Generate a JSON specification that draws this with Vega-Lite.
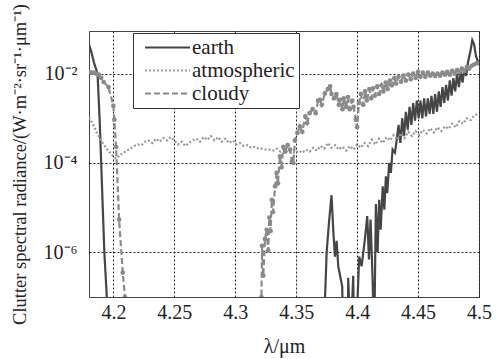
{
  "$schema": "https://vega.github.io/schema/vega-lite/v6.json",
  "width": 390,
  "height": 266,
  "autosize": "none",
  "padding": {"left": 89, "top": 31, "right": 25, "bottom": 62},
  "background": "white",
  "config": {
    "view": {"stroke": "#444", "strokeWidth": 1},
    "style": {"guide-label": {"font": "Liberation Serif", "fill": "#222"}, "guide-title": {"font": "Liberation Serif", "fill": "#222"}},
    "axis": {
      "labelFont": "Liberation Serif", "labelFontSize": 20, "labelColor": "#222",
      "titleFont": "Liberation Serif", "titleFontSize": 19, "titleFontWeight": "normal", "titleColor": "#222",
      "grid": true, "gridColor": "#222", "gridDash": [2, 2], "gridWidth": 1,
      "domain": false, "ticks": false
    },
    "legend": {
      "orient": "none", "legendX": 44, "legendY": 2,
      "fillColor": "white", "strokeColor": "#333", "padding": 4,
      "labelFont": "Liberation Serif", "labelFontSize": 21, "labelColor": "#222",
      "symbolType": "M-3,0H3", "symbolSize": 225, "symbolStrokeWidth": 2,
      "rowPadding": 1, "symbolOffset": 20, "labelOffset": 14
    }
  },
  "data": {"values": [
    {"s":"earth","x":4.180,"y":0.045},{"s":"earth","x":4.182,"y":0.03},{"s":"earth","x":4.184,"y":0.018},{"s":"earth","x":4.187,"y":0.01},
    {"s":"earth","x":4.1887,"y":1e-3},{"s":"earth","x":4.190,"y":1e-4},{"s":"earth","x":4.1913,"y":1e-5},{"s":"earth","x":4.1926,"y":1e-6},
    {"s":"earth","x":4.1946,"y":1e-7},{"s":"earth","x":4.197,"y":1e-9},{"s":"earth","x":4.300,"y":1e-12},{"s":"earth","x":4.369,"y":1e-9},
    {"s":"earth","x":4.3737,"y":1e-7},{"s":"earth","x":4.375,"y":1e-6},{"s":"earth","x":4.377,"y":5e-6},{"s":"earth","x":4.379,"y":1.9e-5},
    {"s":"earth","x":4.3804,"y":3.2e-6},{"s":"earth","x":4.3818,"y":8e-7},{"s":"earth","x":4.3832,"y":1.8e-6},{"s":"earth","x":4.3845,"y":4.9e-7},
    {"s":"earth","x":4.3878,"y":1.7e-7},{"s":"earth","x":4.3888,"y":1e-9},{"s":"earth","x":4.392,"y":1e-9},{"s":"earth","x":4.3927,"y":2.7e-7},
    {"s":"earth","x":4.3946,"y":1e-8},{"s":"earth","x":4.3968,"y":3e-7},{"s":"earth","x":4.3975,"y":1e-8},{"s":"earth","x":4.399,"y":1e-8},
    {"s":"earth","x":4.4017,"y":8e-7},{"s":"earth","x":4.4037,"y":4.9e-7},{"s":"earth","x":4.4064,"y":2e-6},{"s":"earth","x":4.4083,"y":6.5e-6},
    {"s":"earth","x":4.4097,"y":6.9e-7},{"s":"earth","x":4.411,"y":5.4e-6},{"s":"earth","x":4.4127,"y":2.5e-7},{"s":"earth","x":4.414,"y":1e-8},
    {"s":"earth","x":4.4154,"y":1.2e-5},{"s":"earth","x":4.4168,"y":1e-6},{"s":"earth","x":4.4181,"y":1.5e-5},{"s":"earth","x":4.4193,"y":3.2e-6},
    {"s":"earth","x":4.421,"y":3e-5},{"s":"earth","x":4.4223,"y":9e-6},{"s":"earth","x":4.4236,"y":5e-5},{"s":"earth","x":4.4247,"y":2.1e-5},
    {"s":"earth","x":4.4263,"y":1e-4},{"s":"earth","x":4.4277,"y":6e-5},{"s":"earth","x":4.4291,"y":2e-4},{"s":"earth","x":4.431,"y":1.7e-4},
    {"s":"earth","x":4.4325,"y":3.3e-4},{"s":"earth","x":4.434,"y":7.1e-4},{"s":"earth","x":4.4355,"y":2.8e-4},{"s":"earth","x":4.437,"y":1e-3},
    {"s":"earth","x":4.4385,"y":4e-4},{"s":"earth","x":4.440,"y":1.4e-3},{"s":"earth","x":4.4415,"y":5.6e-4},{"s":"earth","x":4.443,"y":1.8e-3},
    {"s":"earth","x":4.4445,"y":7.1e-4},{"s":"earth","x":4.446,"y":2.2e-3},{"s":"earth","x":4.4475,"y":8.9e-4},{"s":"earth","x":4.449,"y":2.5e-3},
    {"s":"earth","x":4.4505,"y":1e-3},{"s":"earth","x":4.452,"y":2.5e-3},{"s":"earth","x":4.4535,"y":1e-3},{"s":"earth","x":4.455,"y":2.8e-3},
    {"s":"earth","x":4.4565,"y":1.1e-3},{"s":"earth","x":4.458,"y":2.8e-3},{"s":"earth","x":4.4595,"y":1.26e-3},{"s":"earth","x":4.461,"y":3.2e-3},
    {"s":"earth","x":4.4625,"y":1.26e-3},{"s":"earth","x":4.464,"y":3.5e-3},{"s":"earth","x":4.4655,"y":1.4e-3},{"s":"earth","x":4.467,"y":4e-3},
    {"s":"earth","x":4.4685,"y":1.8e-3},{"s":"earth","x":4.470,"y":5e-3},{"s":"earth","x":4.4715,"y":2.2e-3},{"s":"earth","x":4.473,"y":5.6e-3},
    {"s":"earth","x":4.4745,"y":2.5e-3},{"s":"earth","x":4.476,"y":7.1e-3},{"s":"earth","x":4.4775,"y":3.2e-3},{"s":"earth","x":4.479,"y":7.9e-3},
    {"s":"earth","x":4.4805,"y":4e-3},{"s":"earth","x":4.482,"y":1e-2},{"s":"earth","x":4.4835,"y":5e-3},{"s":"earth","x":4.485,"y":1.1e-2},
    {"s":"earth","x":4.4865,"y":6.3e-3},{"s":"earth","x":4.488,"y":1.26e-2},{"s":"earth","x":4.4895,"y":8.9e-3},{"s":"earth","x":4.491,"y":1.8e-2},
    {"s":"earth","x":4.493,"y":3.2e-2},{"s":"earth","x":4.4945,"y":5.6e-2},{"s":"earth","x":4.496,"y":4.5e-2},{"s":"earth","x":4.4975,"y":2.5e-2},
    {"s":"earth","x":4.499,"y":1.9e-2},{"s":"earth","x":4.5,"y":1.8e-2},

    {"s":"atmospheric","x":4.180,"y":1.05e-3},{"s":"atmospheric","x":4.183,"y":7.6e-4},{"s":"atmospheric","x":4.186,"y":5e-4},{"s":"atmospheric","x":4.189,"y":3.5e-4},
    {"s":"atmospheric","x":4.192,"y":2.6e-4},{"s":"atmospheric","x":4.195,"y":2e-4},{"s":"atmospheric","x":4.198,"y":1.6e-4},{"s":"atmospheric","x":4.201,"y":1.3e-4},
    {"s":"atmospheric","x":4.203,"y":1.26e-4},{"s":"atmospheric","x":4.205,"y":1.5e-4},{"s":"atmospheric","x":4.208,"y":1.66e-4},{"s":"atmospheric","x":4.211,"y":1.9e-4},
    {"s":"atmospheric","x":4.214,"y":2.1e-4},{"s":"atmospheric","x":4.217,"y":2.4e-4},{"s":"atmospheric","x":4.220,"y":2.6e-4},{"s":"atmospheric","x":4.223,"y":2.5e-4},
    {"s":"atmospheric","x":4.226,"y":3e-4},{"s":"atmospheric","x":4.229,"y":3.2e-4},{"s":"atmospheric","x":4.232,"y":2.8e-4},{"s":"atmospheric","x":4.235,"y":3.5e-4},
    {"s":"atmospheric","x":4.238,"y":3e-4},{"s":"atmospheric","x":4.241,"y":3.6e-4},{"s":"atmospheric","x":4.244,"y":3.2e-4},{"s":"atmospheric","x":4.247,"y":3.8e-4},
    {"s":"atmospheric","x":4.250,"y":3.2e-4},{"s":"atmospheric","x":4.253,"y":2.6e-4},{"s":"atmospheric","x":4.256,"y":3e-4},{"s":"atmospheric","x":4.259,"y":2.4e-4},
    {"s":"atmospheric","x":4.262,"y":2.8e-4},{"s":"atmospheric","x":4.265,"y":3.2e-4},{"s":"atmospheric","x":4.268,"y":3.5e-4},{"s":"atmospheric","x":4.271,"y":3e-4},
    {"s":"atmospheric","x":4.274,"y":3.8e-4},{"s":"atmospheric","x":4.277,"y":3.3e-4},{"s":"atmospheric","x":4.280,"y":4e-4},{"s":"atmospheric","x":4.283,"y":3.2e-4},
    {"s":"atmospheric","x":4.286,"y":3.8e-4},{"s":"atmospheric","x":4.289,"y":3e-4},{"s":"atmospheric","x":4.292,"y":3.5e-4},{"s":"atmospheric","x":4.295,"y":2.8e-4},
    {"s":"atmospheric","x":4.298,"y":3.2e-4},{"s":"atmospheric","x":4.301,"y":2.6e-4},{"s":"atmospheric","x":4.304,"y":2.8e-4},{"s":"atmospheric","x":4.307,"y":2.4e-4},
    {"s":"atmospheric","x":4.310,"y":2.5e-4},{"s":"atmospheric","x":4.313,"y":2.2e-4},{"s":"atmospheric","x":4.316,"y":2.3e-4},{"s":"atmospheric","x":4.319,"y":2.1e-4},
    {"s":"atmospheric","x":4.322,"y":2.1e-4},{"s":"atmospheric","x":4.325,"y":2e-4},{"s":"atmospheric","x":4.328,"y":2e-4},{"s":"atmospheric","x":4.331,"y":1.9e-4},
    {"s":"atmospheric","x":4.334,"y":2.1e-4},{"s":"atmospheric","x":4.337,"y":1.8e-4},{"s":"atmospheric","x":4.340,"y":2e-4},{"s":"atmospheric","x":4.343,"y":1.7e-4},
    {"s":"atmospheric","x":4.346,"y":1.8e-4},{"s":"atmospheric","x":4.349,"y":1.66e-4},{"s":"atmospheric","x":4.352,"y":1.9e-4},{"s":"atmospheric","x":4.355,"y":1.7e-4},
    {"s":"atmospheric","x":4.358,"y":2e-4},{"s":"atmospheric","x":4.361,"y":1.8e-4},{"s":"atmospheric","x":4.364,"y":2.2e-4},{"s":"atmospheric","x":4.367,"y":1.9e-4},
    {"s":"atmospheric","x":4.370,"y":2.4e-4},{"s":"atmospheric","x":4.373,"y":2.1e-4},{"s":"atmospheric","x":4.376,"y":2.8e-4},{"s":"atmospheric","x":4.379,"y":2.2e-4},
    {"s":"atmospheric","x":4.382,"y":2.5e-4},{"s":"atmospheric","x":4.385,"y":2e-4},{"s":"atmospheric","x":4.388,"y":2.3e-4},{"s":"atmospheric","x":4.391,"y":1.9e-4},
    {"s":"atmospheric","x":4.394,"y":2.4e-4},{"s":"atmospheric","x":4.397,"y":2e-4},{"s":"atmospheric","x":4.400,"y":2.6e-4},{"s":"atmospheric","x":4.403,"y":2.2e-4},
    {"s":"atmospheric","x":4.406,"y":2.8e-4},{"s":"atmospheric","x":4.409,"y":2.4e-4},{"s":"atmospheric","x":4.412,"y":3.3e-4},{"s":"atmospheric","x":4.415,"y":2.6e-4},
    {"s":"atmospheric","x":4.418,"y":3.5e-4},{"s":"atmospheric","x":4.421,"y":2.8e-4},{"s":"atmospheric","x":4.424,"y":3.8e-4},{"s":"atmospheric","x":4.427,"y":3.2e-4},
    {"s":"atmospheric","x":4.430,"y":4.2e-4},{"s":"atmospheric","x":4.433,"y":3.3e-4},{"s":"atmospheric","x":4.436,"y":4.6e-4},{"s":"atmospheric","x":4.439,"y":3.6e-4},
    {"s":"atmospheric","x":4.442,"y":5e-4},{"s":"atmospheric","x":4.445,"y":4e-4},{"s":"atmospheric","x":4.448,"y":5.2e-4},{"s":"atmospheric","x":4.451,"y":4.2e-4},
    {"s":"atmospheric","x":4.454,"y":5.5e-4},{"s":"atmospheric","x":4.457,"y":4.6e-4},{"s":"atmospheric","x":4.460,"y":6e-4},{"s":"atmospheric","x":4.463,"y":4.8e-4},
    {"s":"atmospheric","x":4.466,"y":6.3e-4},{"s":"atmospheric","x":4.469,"y":5.2e-4},{"s":"atmospheric","x":4.472,"y":6.6e-4},{"s":"atmospheric","x":4.475,"y":5.8e-4},
    {"s":"atmospheric","x":4.478,"y":7.6e-4},{"s":"atmospheric","x":4.481,"y":6.3e-4},{"s":"atmospheric","x":4.484,"y":8.7e-4},{"s":"atmospheric","x":4.487,"y":7.6e-4},
    {"s":"atmospheric","x":4.490,"y":1e-3},{"s":"atmospheric","x":4.493,"y":9.1e-4},{"s":"atmospheric","x":4.496,"y":1.15e-3},{"s":"atmospheric","x":4.499,"y":1.26e-3},
    {"s":"atmospheric","x":4.500,"y":1.2e-3},

    {"s":"cloudy","x":4.180,"y":1.1e-2},{"s":"cloudy","x":4.182,"y":1.05e-2},{"s":"cloudy","x":4.184,"y":1.05e-2},{"s":"cloudy","x":4.186,"y":1e-2},
    {"s":"cloudy","x":4.188,"y":9.5e-3},{"s":"cloudy","x":4.190,"y":8e-3},{"s":"cloudy","x":4.192,"y":6.5e-3},{"s":"cloudy","x":4.196,"y":5e-3},
    {"s":"cloudy","x":4.200,"y":1.9e-3},{"s":"cloudy","x":4.2008,"y":9.3e-4},{"s":"cloudy","x":4.2022,"y":2.3e-4},{"s":"cloudy","x":4.2047,"y":5.4e-6},
    {"s":"cloudy","x":4.2077,"y":3.5e-7},{"s":"cloudy","x":4.2095,"y":1e-7},{"s":"cloudy","x":4.212,"y":1e-9},{"s":"cloudy","x":4.32,"y":1e-9},
    {"s":"cloudy","x":4.3215,"y":1e-7},{"s":"cloudy","x":4.322,"y":1.4e-6},{"s":"cloudy","x":4.323,"y":3e-7},{"s":"cloudy","x":4.3244,"y":2e-6},
    {"s":"cloudy","x":4.3258,"y":3.2e-6},{"s":"cloudy","x":4.327,"y":1.1e-6},{"s":"cloudy","x":4.328,"y":6e-6},{"s":"cloudy","x":4.329,"y":3e-6},
    {"s":"cloudy","x":4.330,"y":1.5e-5},{"s":"cloudy","x":4.331,"y":8e-6},{"s":"cloudy","x":4.3327,"y":3e-5},{"s":"cloudy","x":4.334,"y":6e-5},
    {"s":"cloudy","x":4.335,"y":3.5e-5},{"s":"cloudy","x":4.3367,"y":1.4e-4},{"s":"cloudy","x":4.338,"y":8e-5},{"s":"cloudy","x":4.3394,"y":2.3e-4},
    {"s":"cloudy","x":4.341,"y":1.8e-4},{"s":"cloudy","x":4.343,"y":2.5e-4},{"s":"cloudy","x":4.345,"y":2e-4},{"s":"cloudy","x":4.3465,"y":1.1e-4},
    {"s":"cloudy","x":4.3476,"y":1e-4},{"s":"cloudy","x":4.349,"y":3.2e-4},{"s":"cloudy","x":4.351,"y":4.7e-4},{"s":"cloudy","x":4.353,"y":6.6e-4},
    {"s":"cloudy","x":4.355,"y":5e-4},{"s":"cloudy","x":4.3575,"y":1.1e-3},{"s":"cloudy","x":4.359,"y":7.9e-4},{"s":"cloudy","x":4.361,"y":1.3e-3},
    {"s":"cloudy","x":4.3635,"y":1.6e-3},{"s":"cloudy","x":4.366,"y":1.3e-3},{"s":"cloudy","x":4.368,"y":2.5e-3},{"s":"cloudy","x":4.3695,"y":2.6e-3},
    {"s":"cloudy","x":4.371,"y":2e-3},{"s":"cloudy","x":4.3735,"y":3.6e-3},{"s":"cloudy","x":4.376,"y":4.5e-3},{"s":"cloudy","x":4.3778,"y":5.2e-3},
    {"s":"cloudy","x":4.379,"y":3.5e-3},{"s":"cloudy","x":4.381,"y":2.8e-3},{"s":"cloudy","x":4.383,"y":3.5e-3},{"s":"cloudy","x":4.385,"y":2e-3},
    {"s":"cloudy","x":4.386,"y":2.6e-3},{"s":"cloudy","x":4.388,"y":1.6e-3},{"s":"cloudy","x":4.389,"y":2.8e-3},{"s":"cloudy","x":4.391,"y":1.8e-3},
    {"s":"cloudy","x":4.3925,"y":3e-3},{"s":"cloudy","x":4.394,"y":1.6e-3},{"s":"cloudy","x":4.396,"y":2.5e-3},{"s":"cloudy","x":4.397,"y":1.8e-3},
    {"s":"cloudy","x":4.399,"y":9.3e-4},{"s":"cloudy","x":4.400,"y":6.3e-4},{"s":"cloudy","x":4.4015,"y":2.2e-3},{"s":"cloudy","x":4.403,"y":3.5e-3},
    {"s":"cloudy","x":4.405,"y":2e-3},{"s":"cloudy","x":4.4065,"y":4e-3},{"s":"cloudy","x":4.408,"y":2.5e-3},{"s":"cloudy","x":4.410,"y":4.5e-3},
    {"s":"cloudy","x":4.4115,"y":2.8e-3},{"s":"cloudy","x":4.413,"y":4.7e-3},{"s":"cloudy","x":4.4145,"y":3.2e-3},{"s":"cloudy","x":4.4165,"y":5.2e-3},
    {"s":"cloudy","x":4.418,"y":3.5e-3},{"s":"cloudy","x":4.420,"y":5.5e-3},{"s":"cloudy","x":4.4215,"y":4e-3},{"s":"cloudy","x":4.4235,"y":6.3e-3},
    {"s":"cloudy","x":4.425,"y":4.5e-3},{"s":"cloudy","x":4.427,"y":7e-3},{"s":"cloudy","x":4.4285,"y":5.5e-3},{"s":"cloudy","x":4.4305,"y":7.9e-3},
    {"s":"cloudy","x":4.432,"y":6e-3},{"s":"cloudy","x":4.434,"y":8.5e-3},{"s":"cloudy","x":4.436,"y":6.6e-3},{"s":"cloudy","x":4.438,"y":9e-3},
    {"s":"cloudy","x":4.440,"y":7e-3},{"s":"cloudy","x":4.442,"y":9.5e-3},{"s":"cloudy","x":4.444,"y":7.5e-3},{"s":"cloudy","x":4.446,"y":1e-2},
    {"s":"cloudy","x":4.448,"y":8e-3},{"s":"cloudy","x":4.450,"y":1.1e-2},{"s":"cloudy","x":4.452,"y":8.5e-3},{"s":"cloudy","x":4.454,"y":1.05e-2},
    {"s":"cloudy","x":4.456,"y":8.5e-3},{"s":"cloudy","x":4.458,"y":1.05e-2},{"s":"cloudy","x":4.460,"y":9e-3},{"s":"cloudy","x":4.462,"y":1e-2},
    {"s":"cloudy","x":4.464,"y":8.9e-3},{"s":"cloudy","x":4.466,"y":1e-2},{"s":"cloudy","x":4.468,"y":9e-3},{"s":"cloudy","x":4.470,"y":1.05e-2},
    {"s":"cloudy","x":4.472,"y":9.5e-3},{"s":"cloudy","x":4.474,"y":1.1e-2},{"s":"cloudy","x":4.476,"y":9.5e-3},{"s":"cloudy","x":4.478,"y":1.15e-2},
    {"s":"cloudy","x":4.480,"y":1e-2},{"s":"cloudy","x":4.482,"y":1.2e-2},{"s":"cloudy","x":4.484,"y":1.1e-2},{"s":"cloudy","x":4.486,"y":1.3e-2},
    {"s":"cloudy","x":4.488,"y":1.15e-2},{"s":"cloudy","x":4.490,"y":1.4e-2},{"s":"cloudy","x":4.492,"y":1.3e-2},{"s":"cloudy","x":4.494,"y":1.5e-2},
    {"s":"cloudy","x":4.496,"y":1.6e-2},{"s":"cloudy","x":4.498,"y":1.7e-2},{"s":"cloudy","x":4.5,"y":1.7e-2}
  ]},
  "encoding": {
    "x": {
      "field": "x", "type": "quantitative",
      "scale": {"domain": [4.18, 4.5], "nice": false, "zero": false},
      "axis": {"values": [4.2, 4.25, 4.3, 4.35, 4.4, 4.45, 4.5], "format": "~g", "labelFlush": false, "labelPadding": 5, "titlePadding": 14, "title": "λ/μm",
        "labelFont": "Liberation Serif", "labelFontSize": 20, "titleFont": "Liberation Serif", "titleFontSize": 20}
    },
    "y": {
      "field": "y", "type": "quantitative",
      "scale": {"type": "log", "domain": [1e-7, 0.09], "nice": false},
      "axis": {"values": [1e-6, 1e-4, 1e-2], "labelExpr": "datum.value < 3e-6 ? '10⁻⁶' : datum.value < 3e-4 ? '10⁻⁴' : '10⁻²'", "labelPadding": 12, "titlePadding": 14, "title": "Clutter spectral radiance/(W·m⁻²·sr⁻¹·μm⁻¹)",
        "labelFont": "Liberation Serif", "labelFontSize": 20, "titleFont": "Liberation Serif", "titleFontSize": 18.5}
    }
  },
  "layer": [
    {
      "mark": {"type": "line", "clip": true, "strokeWidth": 2.2},
      "encoding": {
        "color": {"field": "s", "type": "nominal", "scale": {"domain": ["earth", "atmospheric", "cloudy"], "range": ["#454545", "#9a9a9a", "#8a8a8a"]}, "legend": {"title": null, "labelFont": "Liberation Serif", "labelFontSize": 21}},
        "strokeDash": {"field": "s", "type": "nominal", "scale": {"domain": ["earth", "atmospheric", "cloudy"], "range": [[1, 0], [2, 2], [6, 3]]}, "legend": {"title": null, "labelFont": "Liberation Serif", "labelFontSize": 21}}
      }
    },
    {
      "transform": [{"filter": "datum.s == 'cloudy'"}],
      "mark": {"type": "point", "clip": true, "filled": true, "size": 22, "color": "#8a8a8a", "opacity": 1}
    }
  ]
}
